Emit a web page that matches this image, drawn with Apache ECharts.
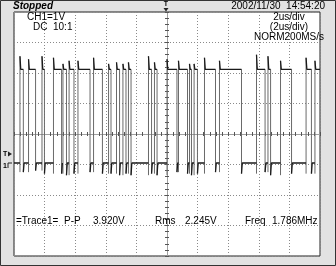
<!DOCTYPE html>
<html><head><meta charset="utf-8">
<script src="https://cdn.jsdelivr.net/npm/echarts@6/dist/echarts.min.js"></script>
<style>html,body{margin:0;padding:0;background:#e2e2e2;overflow:hidden}#c{width:336px;height:266px}</style>
</head><body><div id="c"></div>
<script>
// time in microseconds (2 us/div, 10 div), volts (1 V/div, ground at -1 div)
const highStart = [0.39,0.95,1.83,2.58,3.20,3.60,4.18,5.20,6.18,6.70,7.12,7.48,8.79,9.18,10.00,10.75,11.47,11.77,12.45,13.43,15.85,16.60,17.42,19.09,19.67];
const highEnd   = [0.61,1.41,1.99,3.11,3.43,3.92,4.97,5.78,6.34,6.90,7.32,7.65,8.99,9.35,10.65,11.34,11.60,11.99,13.17,14.87,16.41,16.77,18.14,19.44,20.00];
const risePeak  = [3.55,3.45,3.55,3.50,3.30,3.40,3.40,3.50,3.30,3.35,3.30,3.35,3.55,3.35,3.45,3.40,3.30,3.30,3.50,3.40,3.60,3.55,3.40,3.50,3.40];
const fallDip   = [-0.25,-0.20,-0.30,-0.30,-0.35,-0.30,-0.25,-0.30,-0.30,-0.35,-0.30,-0.35,-0.30,-0.35,-0.25,-0.30,-0.35,-0.30,-0.25,-0.30,-0.25,-0.35,-0.30,-0.30,0.05];
const highLevel = 3.12, lowLevel = 0.05;

const levelData = [], edgeData = [];
let prev = 0;
for (let i = 0; i < highStart.length; i++) {
  const s = highStart[i], e = highEnd[i];
  levelData.push([prev, lowLevel], [s, lowLevel], [s, '-']);
  levelData.push([s, risePeak[i]], [Math.min(s + 0.05, e), highLevel], [e, highLevel], [e, '-']);
  edgeData.push([s, fallDip[i > 0 ? i - 1 : 0]], [s, risePeak[i]], [s, '-']);
  if (e < 20) edgeData.push([e, highLevel], [e, fallDip[i]], [e, '-']);
  if (e < 20) levelData.push([e, fallDip[i]], [Math.min(e + 0.05, 20), lowLevel]);
  prev = Math.min(e + 0.05, 20);
}

const chart = echarts.init(document.getElementById('c'), null, {renderer: 'canvas'});
const FF = '"Liberation Sans", Arial, sans-serif';
const F = '10px ' + FF;
function txt(t, x, y, align, font) {
  return {type: 'text', x: x, y: y, z: 100,
    style: {text: t, font: font || F, fill: '#000', align: align || 'left', verticalAlign: 'middle'}};
}
const G = {left: 14, right: 16, top: 12, bottom: 10};
chart.setOption({
  animation: false,
  backgroundColor: '#e2e2e2',
  grid: Object.assign({show: true, backgroundColor: '#ffffff', borderColor: '#222', borderWidth: 1}, G),
  xAxis: [
    {type: 'value', min: 0, max: 20, interval: 2, axisLine: {show: false}, axisTick: {show: false}, axisLabel: {show: false},
     splitLine: {show: true, lineStyle: {color: '#8a8a8a', type: [1, 2], width: 1}}},
    {type: 'value', min: -5, max: 5, interval: 0.2, axisLine: {show: true, onZero: true, onZeroAxisIndex: 1, lineStyle: {color: '#a0a0a0', width: 1}},
     axisTick: {show: true, inside: true, length: 2, lineStyle: {color: '#555'}}, axisLabel: {show: false}, splitLine: {show: false}},
    {type: 'value', min: -5, max: 5, interval: 0.2, axisLine: {show: false, onZero: true, onZeroAxisIndex: 1},
     axisTick: {show: true, inside: false, length: 2, lineStyle: {color: '#555'}}, axisLabel: {show: false}, splitLine: {show: false}}
  ],
  yAxis: [
    {type: 'value', min: -3, max: 5, interval: 1, axisLine: {show: false}, axisTick: {show: false}, axisLabel: {show: false},
     splitLine: {show: true, lineStyle: {color: '#8a8a8a', type: [1, 2], width: 1}}},
    {type: 'value', min: -4, max: 4, interval: 0.2, axisLine: {show: true, onZero: true, onZeroAxisIndex: 1, lineStyle: {color: '#a0a0a0', width: 1}},
     axisTick: {show: true, inside: true, length: 2, lineStyle: {color: '#555'}}, axisLabel: {show: false}, splitLine: {show: false}},
    {type: 'value', min: -4, max: 4, interval: 0.2, axisLine: {show: false, onZero: true, onZeroAxisIndex: 1},
     axisTick: {show: true, inside: false, length: 2, lineStyle: {color: '#555'}}, axisLabel: {show: false}, splitLine: {show: false}}
  ],
  series: [
    {type: 'line', xAxisIndex: 0, yAxisIndex: 0, data: edgeData, showSymbol: false, symbol: 'none',
     connectNulls: false, lineStyle: {color: '#6a6a6a', width: 1}, z: 5},
    {type: 'line', xAxisIndex: 0, yAxisIndex: 0, data: levelData, showSymbol: false, symbol: 'none',
     connectNulls: false, lineStyle: {color: '#1a1a1a', width: 1.3}, z: 6}
  ],
  graphic: [
    {type: 'rect', shape: {x: 0.5, y: 0.5, width: 335, height: 265}, style: {fill: 'none', stroke: '#333', lineWidth: 1}, z: 120},
    txt('Stopped', 13, 6, 'left', 'italic bold 10px ' + FF),
    txt('2002/11/30  14:54:20', 325, 6, 'right'),
    txt('T', 166, 4, 'center', 'bold 7px ' + FF),
    {type: 'polygon', shape: {points: [[163.5, 8], [168.5, 8], [166, 11.5]]}, style: {fill: '#222'}, z: 100},
    txt('CH1=1V', 27, 17),
    txt('DC  10:1', 33, 27),
    txt('2us/div', 289, 17, 'center'),
    txt('(2us/div)', 289, 27, 'center'),
    txt('NORM200MS/s', 289, 37, 'center'),
    txt('T', 3, 154, 'left', 'bold 7px ' + FF),
    {type: 'polygon', shape: {points: [[8, 151.5], [8, 156.5], [12, 154]]}, style: {fill: '#222'}, z: 100},
    txt('1', 3, 166, 'left', 'bold 7px ' + FF),
    {type: 'polyline', shape: {points: [[12, 163], [8, 163], [8, 168]]}, style: {stroke: '#222', lineWidth: 1, fill: 'none'}, z: 100},
    txt('=Trace1=', 16, 221),
    txt('P-P', 64, 221),
    txt('3.920V', 93, 221),
    txt('Rms', 155, 221),
    txt('2.245V', 185, 221),
    txt('Freq', 245, 221),
    txt('1.786MHz', 272, 221)
  ]
});
</script>
</body></html>
